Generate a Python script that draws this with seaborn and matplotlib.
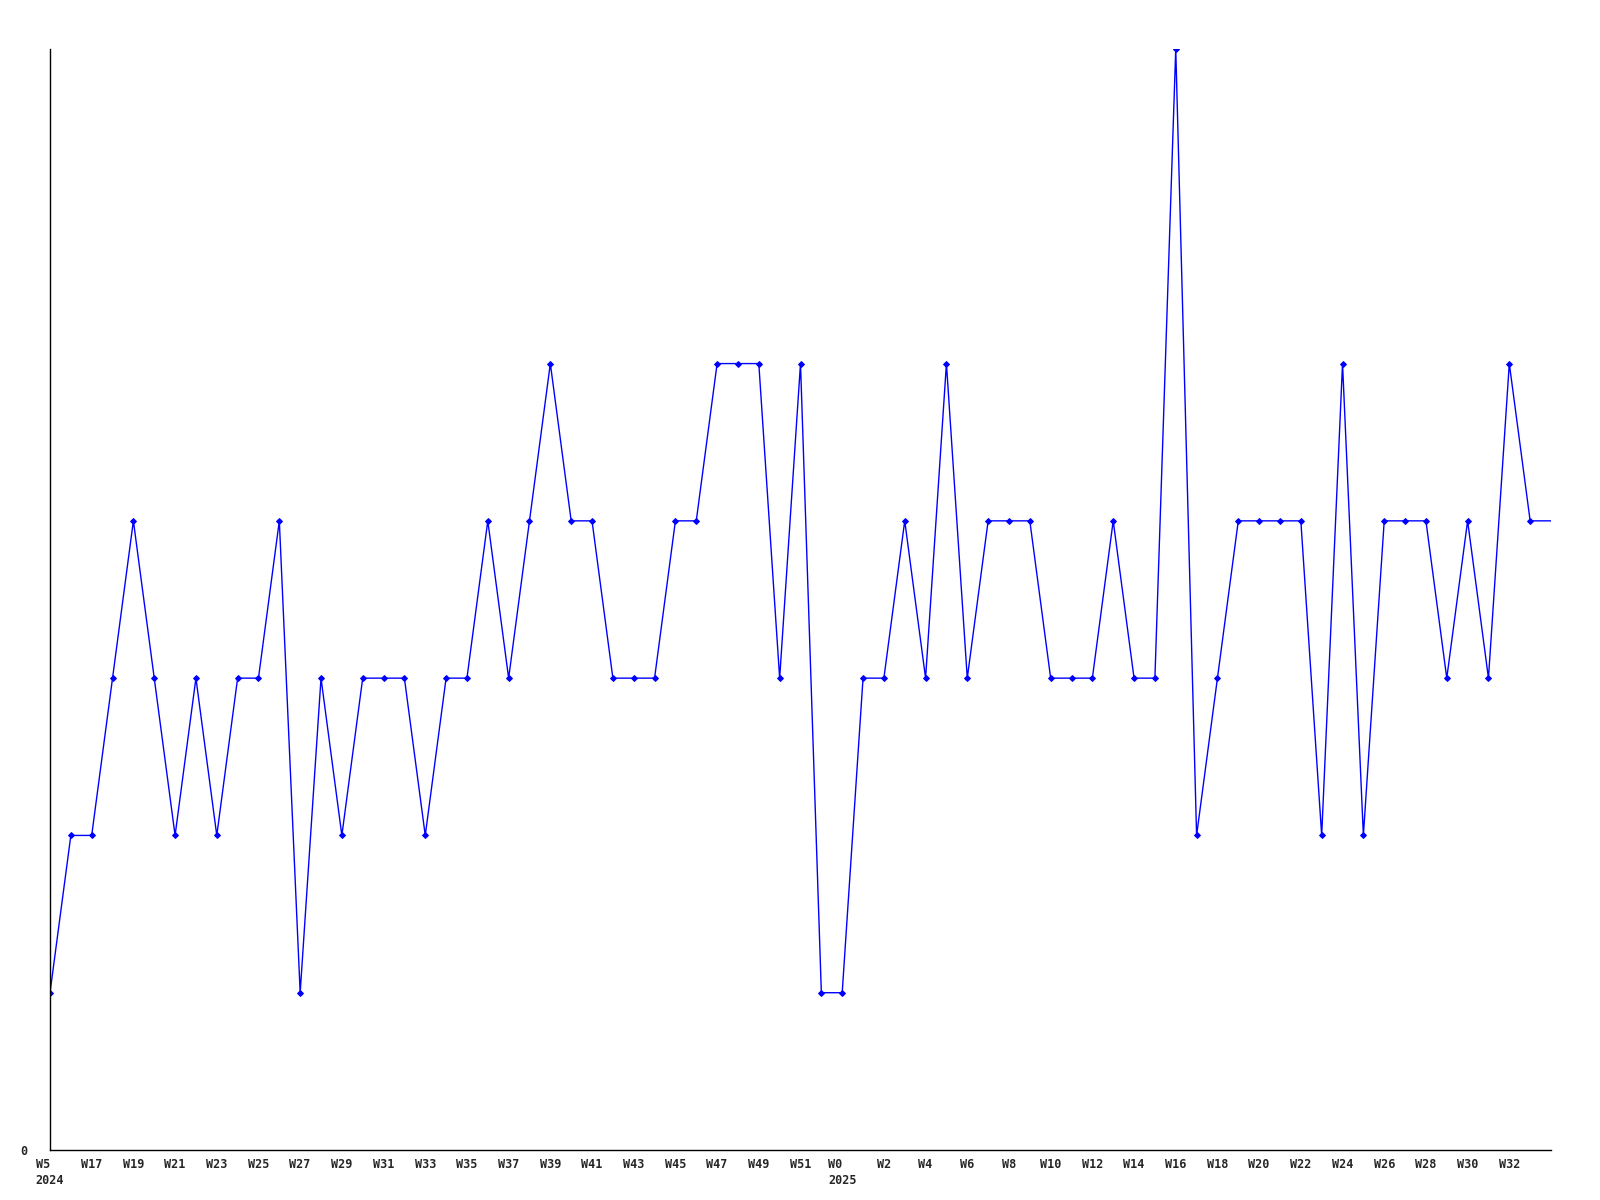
import matplotlib
matplotlib.use("Agg")
import matplotlib.pyplot as plt
import seaborn as sns
import pandas as pd

# weekly values, one per week (last one has no marker, it sits on the axis end)
values = [1, 2, 2, 3, 4, 3, 2, 3, 2, 3, 3, 4, 1, 3, 2, 3, 3, 3, 2, 3,
          3, 4, 3, 4, 5, 4, 4, 3, 3, 3, 4, 4, 5, 5, 5, 3, 5, 1, 1, 3,
          3, 4, 3, 5, 3, 4, 4, 4, 3, 3, 3, 4, 3, 3, 7, 2, 3, 4, 4, 4,
          4, 2, 5, 2, 4, 4, 4, 3, 4, 3, 5, 4, 4]

# labels on every second week
tick_labels = ["W5\n2024", "W17", "W19", "W21", "W23", "W25", "W27", "W29",
               "W31", "W33", "W35", "W37", "W39", "W41", "W43", "W45", "W47",
               "W49", "W51", "W0\n2025", "W2", "W4", "W6", "W8", "W10", "W12",
               "W14", "W16", "W18", "W20", "W22", "W24", "W26", "W28", "W30",
               "W32"]

df = pd.DataFrame({"week": range(len(values)), "count": values})

sns.set_style("white")
plt.rcParams["font.family"] = ["DejaVu Sans Mono"]

fig = plt.figure(figsize=(16, 12), dpi=100)
ax = fig.add_axes([50 / 1600, 1 - 1150 / 1200, 1501 / 1600, 1101 / 1200])

sns.lineplot(data=df, x="week", y="count", ax=ax, color="#0000ff",
             linewidth=1.0, marker="D", markersize=3,
             markeredgecolor="#0000ff", markevery=list(range(len(values) - 1)))

ax.set_xlim(0, len(values) - 1)
ax.set_ylim(0, 7)
ax.set_xlabel("")
ax.set_ylabel("")

ax.set_xticks(range(0, 2 * len(tick_labels), 2))
ax.set_xticklabels(tick_labels, fontsize=8.5, fontweight="bold",
                   ha="center", va="top", multialignment="left",
                   linespacing=1.3)

ax.set_yticks([0])
ax.set_yticklabels(["0"], fontsize=8.5, fontweight="bold")

ax.tick_params(axis="x", length=0, pad=5.5)
ax.tick_params(axis="y", length=0, pad=16)

for side in ["top", "right"]:
    ax.spines[side].set_visible(False)
for side in ["left", "bottom"]:
    ax.spines[side].set_color("black")
    ax.spines[side].set_linewidth(1.0)

fig.savefig("out.png", dpi=100)
